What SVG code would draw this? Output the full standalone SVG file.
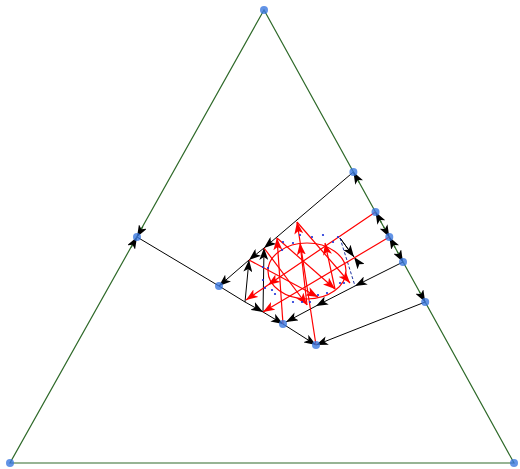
<svg xmlns="http://www.w3.org/2000/svg" width="520" height="469" viewBox="0 0 520 469">
<defs>
<marker id="ak" markerUnits="userSpaceOnUse" markerWidth="12" markerHeight="9" refX="12" refY="4.5" orient="auto"><path d="M0,0 L12,4.5 L0,9 L3,4.5 z" fill="#000"/></marker>
<marker id="ar" markerUnits="userSpaceOnUse" markerWidth="12" markerHeight="9" refX="12" refY="4.5" orient="auto"><path d="M0,0 L12,4.5 L0,9 L3,4.5 z" fill="#f00"/></marker>
</defs>
<style>
.edge{stroke:#2f6a2a;stroke-width:1.2;fill:none}
.bk{stroke:#000;stroke-width:1;fill:none}
.rd{stroke:#f00;stroke-width:1.2;fill:none}
.node{fill:#3b78e0;fill-opacity:0.8}
.sm{fill:#1a2fd8}
</style>
<g id="triangle">
<path class="edge" d="M264,10 L10,463 L514,463 Z"/>
</g>
<g id="connectors">
<path class="edge" marker-end="url(#ak)" d="M131.1,247.5 L137,237"/>
<path class="edge" marker-end="url(#ak)" d="M142.9,226.5 L137,237"/>
<path class="edge" marker-end="url(#ak)" d="M359.2,182.5 L353.4,172"/>
<path class="edge" marker-end="url(#ak)" d="M381.3,222.5 L375.5,212"/>
<path class="edge" marker-end="url(#ak)" d="M383.5,226.5 L389.3,237"/>
<path class="edge" marker-end="url(#ak)" d="M395.1,247.5 L389.3,237"/>
<path class="edge" marker-end="url(#ak)" d="M397.2,251.5 L403,262"/>
<path class="edge" marker-end="url(#ak)" d="M419.4,291.5 L425.2,302"/>
<path class="bk" d="M219,286 L137,237"/>
<path class="bk" marker-mid="url(#ak)" marker-end="url(#ak)" d="M353.4,172 L264,248 L249,260 L219,286"/>
<path class="bk" marker-end="url(#ak)" d="M245,302 L249,260"/>
<path class="bk" marker-end="url(#ak)" d="M263,312 L264,248"/>
<path class="bk" d="M219,286 L245,302"/>
<path class="bk" marker-mid="url(#ak)" marker-end="url(#ak)" d="M245,302 L263,312 L283,324 L316,345"/>
<path class="bk" marker-mid="url(#ak)" marker-end="url(#ak)" d="M403,262 L355,286 L316,306 L286,322"/>
<path class="bk" marker-end="url(#ak)" d="M425.2,302 L316,345"/>
<path class="bk" marker-start="url(#ak)" marker-end="url(#ak)" d="M354,257 L340,238 L354,257"/>
<path stroke="#1a2fa0" stroke-width="1" stroke-dasharray="3,2" fill="none" d="M340,238 L355,286"/>
<ellipse class="rd" cx="307" cy="271" rx="39" ry="28"/>
<path class="rd" marker-mid="url(#ar)" marker-end="url(#ar)" d="M375.5,212 L268,285 L246,300"/>
<path class="rd" marker-end="url(#ar)" d="M389.3,237 L263,312"/>
<path class="rd" marker-end="url(#ar)" d="M249,260 L318,297"/>
<path class="rd" marker-end="url(#ar)" d="M264,248 L307,305"/>
<path class="rd" marker-end="url(#ar)" d="M297,222 L350,283"/>
<path class="rd" marker-end="url(#ar)" d="M277,238 L335,289"/>
<path class="rd" marker-end="url(#ar)" d="M283,324 L277,238"/>
<path class="rd" marker-end="url(#ar)" d="M316,345 L297,222"/>
<path class="rd" marker-end="url(#ar)" d="M307,305 L300,243"/>
<path class="rd" marker-end="url(#ar)" d="M335,289 L325,243"/>
</g>
<g id="samples">
<circle class="sm" cx="283" cy="242" r="1.1"/><circle class="sm" cx="293" cy="243" r="1.1"/>
<circle class="sm" cx="300" cy="235" r="1.1"/><circle class="sm" cx="312" cy="237" r="1.1"/>
<circle class="sm" cx="323" cy="235" r="1.1"/><circle class="sm" cx="333" cy="242" r="1.1"/>
<circle class="sm" cx="338" cy="237" r="1.1"/><circle class="sm" cx="282" cy="250" r="1.1"/>
<circle class="sm" cx="263" cy="267" r="1.1"/><circle class="sm" cx="268" cy="268" r="1.1"/>
<circle class="sm" cx="263" cy="280" r="1.1"/><circle class="sm" cx="265" cy="288" r="1.1"/>
<circle class="sm" cx="272" cy="290" r="1.1"/><circle class="sm" cx="275" cy="294" r="1.1"/>
<circle class="sm" cx="293" cy="302" r="1.1"/><circle class="sm" cx="302" cy="302" r="1.1"/>
<circle class="sm" cx="310" cy="302" r="1.1"/><circle class="sm" cx="318" cy="295" r="1.1"/>
<circle class="sm" cx="327" cy="293" r="1.1"/><circle class="sm" cx="340" cy="283" r="1.1"/>
<circle class="sm" cx="344" cy="283" r="1.1"/>
</g>
<g id="n_top"><circle class="node" cx="264" cy="10" r="4"/></g>
<g id="n_bl"><circle class="node" cx="10" cy="463" r="4"/></g>
<g id="n_br"><circle class="node" cx="514" cy="463" r="4"/></g>
<g id="n_left"><circle class="node" cx="137" cy="237" r="4"/></g>
<g id="n_r1"><circle class="node" cx="353.4" cy="172" r="4"/></g>
<g id="n_r2"><circle class="node" cx="375.5" cy="212" r="4"/></g>
<g id="n_r3"><circle class="node" cx="389.3" cy="237" r="4"/></g>
<g id="n_r4"><circle class="node" cx="403" cy="262" r="4"/></g>
<g id="n_r5"><circle class="node" cx="425.2" cy="302" r="4"/></g>
<g id="n_c1"><circle class="node" cx="219" cy="286" r="4"/></g>
<g id="n_c2"><circle class="node" cx="283" cy="324" r="4"/></g>
<g id="n_c3"><circle class="node" cx="316" cy="345" r="4"/></g>
</svg>
